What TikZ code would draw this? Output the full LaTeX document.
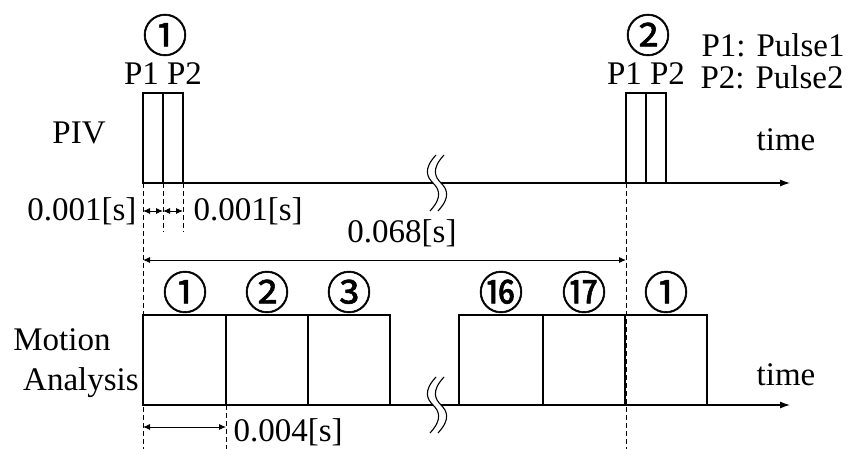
\documentclass[tikz,border=0pt]{standalone}
\usepackage{fontspec}
\setmainfont{Liberation Serif}
\newfontfamily\circfont[FakeBold=1.2]{Noto Sans CJK JP}
\usetikzlibrary{calc, arrows.meta}

\begin{document}
\begin{tikzpicture}[x=1pt, y=-1pt, line width=1.1pt,
  lbl/.style={font=\fontsize{33}{38}\selectfont, inner sep=0pt},
  circ/.style={font=\circfont\fontsize{45}{48}\selectfont, inner sep=0pt},
  axis/.style={-{Latex[length=10pt,width=7pt]}},
  dim/.style={line width=0.9pt, {Latex[length=7pt,width=6pt]}-{Latex[length=7pt,width=6pt]}},
  guide/.style={line width=0.9pt, dash pattern=on 5pt off 3pt}]

  \useasboundingbox (0,0) rectangle (849,449);

  \coordinate (O1) at (143,183);   % PIV time axis
  \coordinate (E1) at (790,183);
  \coordinate (O2) at (143,405);   % motion analysis time axis
  \coordinate (E2) at (790,405);
  \coordinate (BA) at (433,183);   % axis breaks
  \coordinate (BB) at (433,405);

  % PIV pulses
  \draw (143,183) rectangle (163,93);
  \draw (163,183) rectangle (183,93);
  \draw (626,183) rectangle (646,93);
  \draw (646,183) rectangle (666,93);

  % time axes with breaks
  \draw (O1) -- (BA);
  \draw[axis] ($(BA)+(8,0)$) -- (E1);
  \draw (O2) -- (BB);
  \draw[axis] ($(BB)+(8,0)$) -- (E2);
  \draw[shift={(BA)}] (3,-28) .. controls (-10,-14) and (-6,-6) .. (0,0) .. controls (6,6) and (10,14) .. (-3,28);
  \draw[shift={(BA)}] (11,-28) .. controls (-2,-14) and (2,-6) .. (8,0) .. controls (14,6) and (18,14) .. (5,28);
  \draw[shift={(BB)}] (3,-28) .. controls (-10,-14) and (-6,-6) .. (0,0) .. controls (6,6) and (10,14) .. (-3,28);
  \draw[shift={(BB)}] (11,-28) .. controls (-2,-14) and (2,-6) .. (8,0) .. controls (14,6) and (18,14) .. (5,28);

  % motion analysis frames
  \draw (143,405) rectangle (226,315);
  \draw (226,405) rectangle (308,315);
  \draw (308,405) rectangle (390,315);
  \draw (459,405) rectangle (543,315);
  \draw (543,405) rectangle (625,315);
  \draw (625,405) rectangle (707,315);

  % guide lines
  \draw[guide] (143,183) -- (143,449);
  \draw[guide] (163,183) -- (163,232);
  \draw[guide] (183,183) -- (183,232);
  \draw[guide] (626,183) -- (626,449);
  \draw[guide] (226,405) -- (226,449);

  % intervals
  \coordinate (TA) at (143,211);
  \coordinate (TB) at (163,211);
  \coordinate (TC) at (183,211);
  \coordinate (LA) at (143,260);
  \coordinate (LB) at (626,260);
  \coordinate (FA) at (143,427);
  \coordinate (FB) at (226,427);
  \draw[dim] (TA) -- (TB);
  \draw[dim] (TB) -- (TC);
  \draw[dim] (LA) -- (LB);
  \draw[dim] (FA) -- (FB);

  % labels
  \node[circ] (n1) at (165,35) {①};
  \node[circ] (n2) at (648,35) {②};
  \node[lbl] (p1) at (163,74) {P1 P2};
  \node[lbl] (p2) at (646,74) {P1 P2};
  \node[lbl, anchor=west] (k1) at (701,45) {P1: Pulse1};
  \node[lbl, anchor=west] (k2) at (700,77) {P2: Pulse2};
  \node[lbl] (piv) at (79,133) {PIV};
  \node[lbl] (mo) at (62,340) {Motion};
  \node[lbl] (an) at (81,383) {Analysis};
  \node[lbl] (t1) at (786,140) {time};
  \node[lbl] (t2) at (786,375) {time};
  \node[lbl, anchor=east] (d1) at (137,211) {0.001[s]};
  \node[lbl, anchor=west] (d2) at (193,211) {0.001[s]};
  \node[lbl] (d3) at (402,233) {0.068[s]};
  \node[lbl, anchor=west] (d4) at (233,432) {0.004[s]};

  \node[circ] (f1) at (185,292) {①};
  \node[circ] (f2) at (267,292) {②};
  \node[circ] (f3) at (349,292) {③};
  \node[circ] (f16) at (501,292) {⑯};
  \node[circ] (f17) at (584,292) {⑰};
  \node[circ] (f18) at (666,292) {①};
\end{tikzpicture}
\end{document}
